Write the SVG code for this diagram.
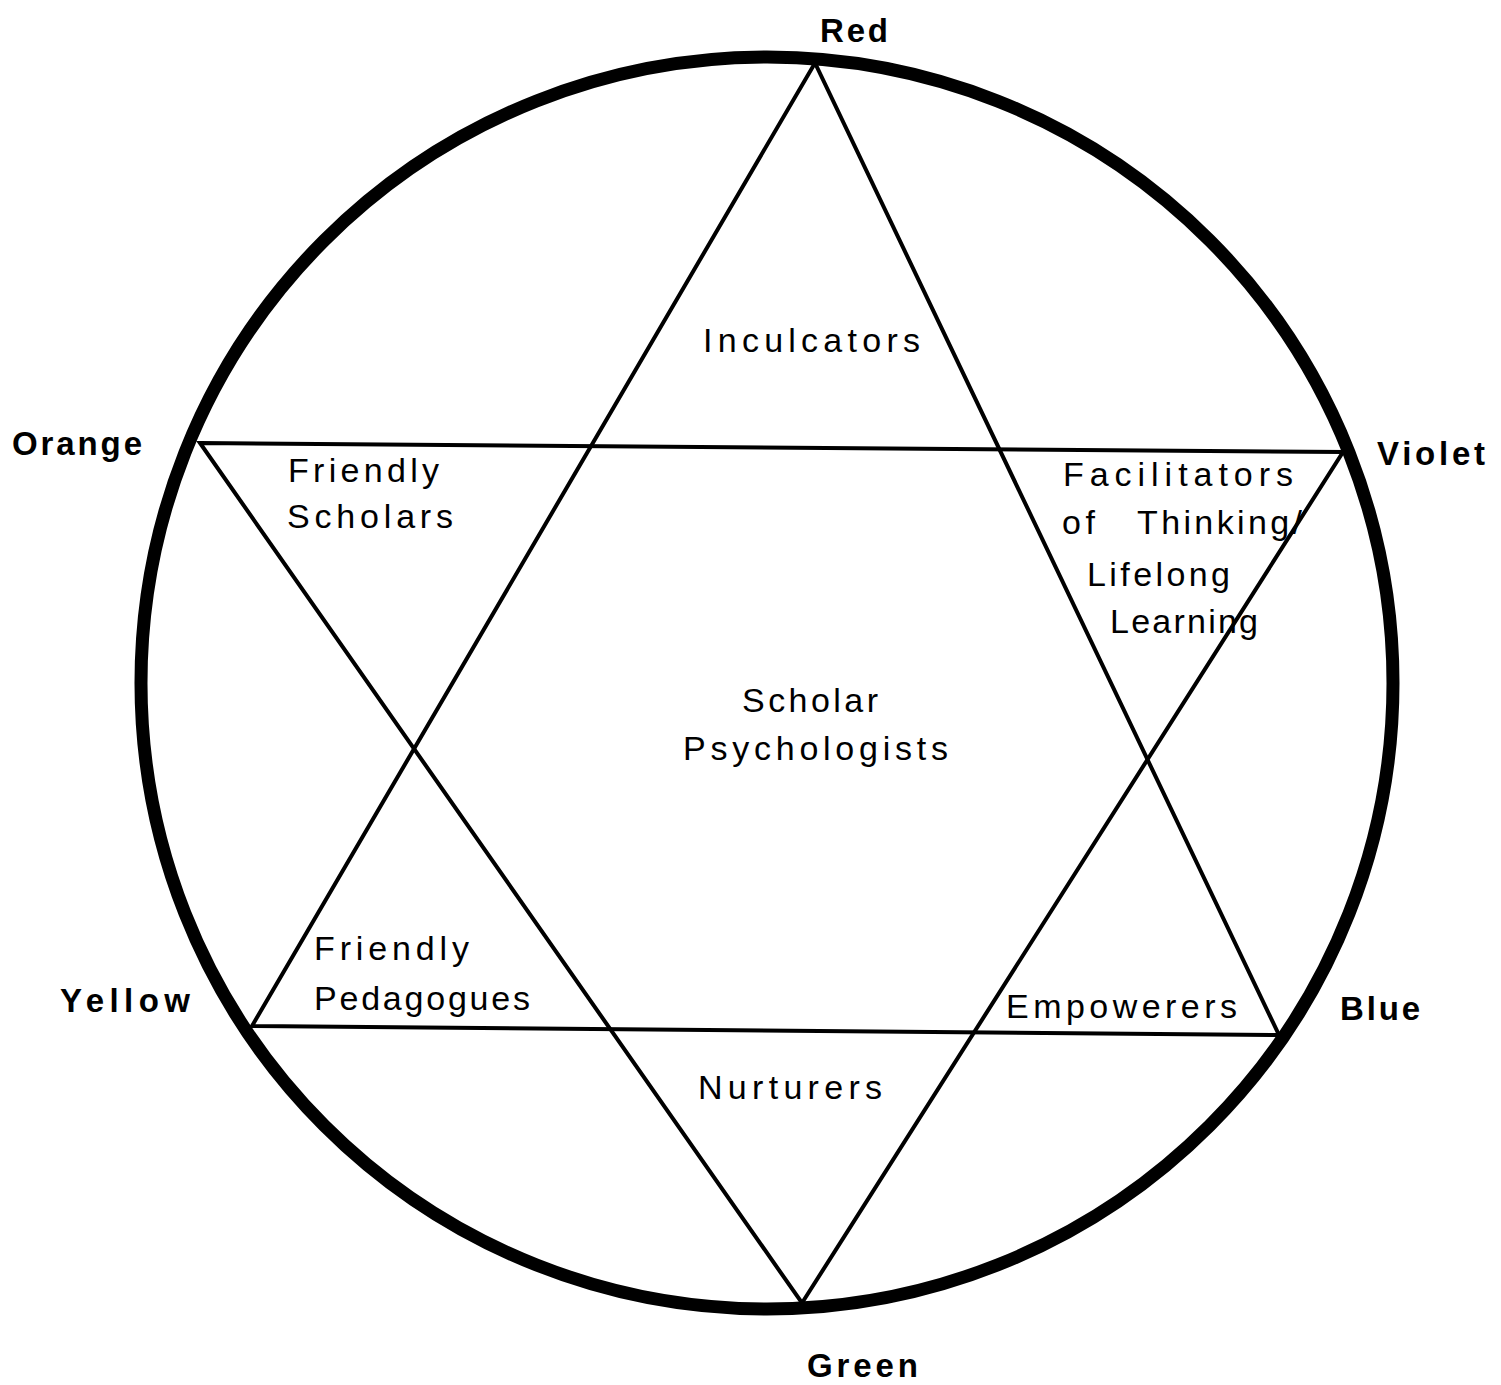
<svg xmlns="http://www.w3.org/2000/svg" width="1501" height="1385" viewBox="0 0 1501 1385">
<style>
.ring{fill:none;stroke:#000;stroke-width:13}
.edge{fill:none;stroke:#000;stroke-width:4;stroke-linejoin:miter}
.lbl{font-family:"Liberation Sans",Arial,sans-serif;font-size:34px;fill:#000}
.pt{font-family:"Liberation Sans",Arial,sans-serif;font-weight:bold;font-size:33px;fill:#000}
</style>
<rect width="1501" height="1385" fill="#fff"/>
<g id="circle">
<circle class="ring" cx="767" cy="683" r="626"/>
</g>
<g id="connectors">
<polygon class="edge" points="815,63 252,1026 1279,1035"/>
<polygon class="edge" points="200,443 1343,452 802,1303"/>
</g>
<g id="node-red"><text class="pt" x="820" y="42" textLength="68" lengthAdjust="spacing">Red</text></g>
<g id="node-orange"><text class="pt" x="12" y="455" textLength="130" lengthAdjust="spacing">Orange</text></g>
<g id="node-violet"><text class="pt" x="1377" y="465" textLength="108" lengthAdjust="spacing">Violet</text></g>
<g id="node-yellow"><text class="pt" x="60" y="1012" textLength="130" lengthAdjust="spacing">Yellow</text></g>
<g id="node-blue"><text class="pt" x="1340" y="1020" textLength="80" lengthAdjust="spacing">Blue</text></g>
<g id="node-green"><text class="pt" x="807" y="1377" textLength="111" lengthAdjust="spacing">Green</text></g>
<g id="region-inculcators"><text class="lbl" x="703" y="352" textLength="217" lengthAdjust="spacing">Inculcators</text></g>
<g id="region-friendly-scholars">
<text class="lbl" x="288" y="482" textLength="151" lengthAdjust="spacing">Friendly</text>
<text class="lbl" x="287" y="528" textLength="166" lengthAdjust="spacing">Scholars</text>
</g>
<g id="region-facilitators">
<text class="lbl" x="1063" y="486" textLength="230" lengthAdjust="spacing">Facilitators</text>
<text class="lbl" x="1062" y="534" textLength="33" lengthAdjust="spacing">of</text>
<text class="lbl" x="1137" y="534" textLength="165" lengthAdjust="spacing">Thinking/</text>
<text class="lbl" x="1087" y="586" textLength="143" lengthAdjust="spacing">Lifelong</text>
<text class="lbl" x="1110" y="633" textLength="148" lengthAdjust="spacing">Learning</text>
</g>
<g id="region-scholar-psychologists">
<text class="lbl" x="742" y="712" textLength="136" lengthAdjust="spacing">Scholar</text>
<text class="lbl" x="683" y="760" textLength="265" lengthAdjust="spacing">Psychologists</text>
</g>
<g id="region-friendly-pedagogues">
<text class="lbl" x="314" y="960" textLength="155" lengthAdjust="spacing">Friendly</text>
<text class="lbl" x="314" y="1010" textLength="216" lengthAdjust="spacing">Pedagogues</text>
</g>
<g id="region-empowerers"><text class="lbl" x="1006" y="1018" textLength="231" lengthAdjust="spacing">Empowerers</text></g>
<g id="region-nurturers"><text class="lbl" x="698" y="1099" textLength="184" lengthAdjust="spacing">Nurturers</text></g>
</svg>
